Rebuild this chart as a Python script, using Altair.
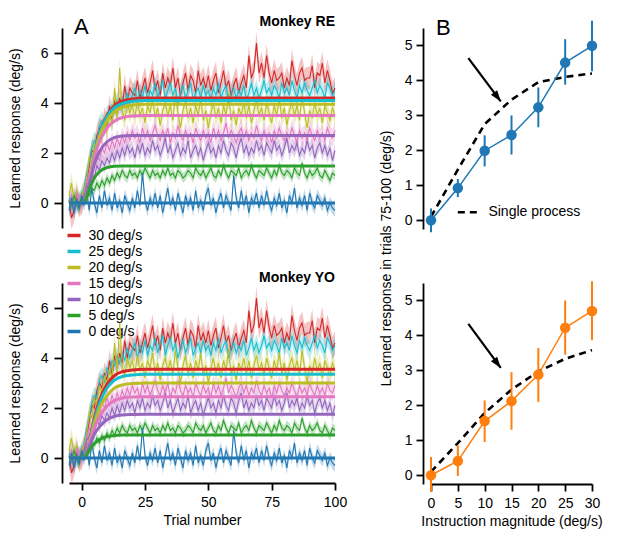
import altair as alt
import pandas as pd

# ---------------- data ----------------
trials = list(range(-5, 101))
speeds = ["30 deg/s", "25 deg/s", "20 deg/s", "15 deg/s", "10 deg/s", "5 deg/s", "0 deg/s"]
colors = ["#d62728", "#17becf", "#bcbd22", "#e377c2", "#9467bd", "#2ca02c", "#1f77b4"]

resp_30 = [0.1, -0.6, -0.3, 0.2, -0.1,
           0.0, 0.4, 0.9, 1.5, 2.1, 2.0, 2.7, 3.0, 2.8, 3.4,
           3.1, 3.9, 3.3, 4.1, 3.6, 4.2, 3.8, 4.7, 4.0, 4.6,
           4.4, 4.3, 4.9, 4.2, 4.6, 5.0, 4.4, 4.8, 5.3, 4.5,
           4.9, 4.3, 5.2, 4.6, 5.0, 4.7, 5.4, 4.6, 5.0, 4.3,
           4.8, 5.2, 4.5, 5.1, 4.9, 4.4, 5.3, 4.7, 5.0, 4.6,
           5.1, 4.5, 4.9, 5.2, 4.4, 4.8, 5.3, 4.6, 4.9, 4.3,
           4.7, 5.0, 4.4, 4.8, 5.1, 4.6, 5.9, 5.0, 5.3, 6.4,
           5.2, 5.6, 5.0, 5.9, 5.2, 4.8, 5.3, 4.9, 5.0, 5.2,
           4.6, 5.0, 4.7, 5.7, 5.1, 4.7, 5.2, 5.4, 4.9, 5.0,
           5.0, 5.5, 4.6, 5.2, 5.1, 5.6, 4.8, 5.3, 4.9, 4.4,
           4.6]
resp_25 = [0.2, -0.2, 0.3, -0.1, 0.1,
           0.2, 0.6, 1.2, 1.6, 2.2, 2.5, 2.4, 3.1, 3.3, 3.0,
           3.6, 3.4, 3.9, 3.7, 4.1, 3.8, 4.2, 3.9, 4.4, 4.0,
           4.3, 4.6, 4.0, 4.5, 4.2, 4.7, 4.1, 4.5, 4.3, 4.8,
           4.2, 4.6, 4.9, 4.1, 4.5, 4.8, 4.3, 4.6, 4.0, 4.4,
           4.7, 4.2, 4.5, 4.8, 4.1, 4.4, 4.6, 4.2, 4.7, 4.3,
           4.5, 4.1, 4.6, 4.3, 4.8, 4.2, 4.5, 4.7, 4.0, 4.4,
           4.6, 4.2, 4.5, 4.3, 4.7, 4.1, 4.4, 4.8, 4.3, 4.6,
           4.2, 4.5, 4.9, 4.4, 4.6, 4.3, 4.7, 4.5, 4.2, 4.8,
           4.4, 4.6, 4.3, 4.9, 4.5, 4.2, 4.7, 4.4, 4.8, 4.5,
           4.3, 4.6, 4.9, 4.4, 4.7, 4.5, 4.2, 4.8, 4.6, 4.3,
           4.5]
resp_20 = [0.3, 0.8, 0.1, 0.5, -0.2,
           0.3, 0.5, 1.0, 1.8, 1.6, 2.4, 2.1, 2.9, 2.6, 3.3,
           2.9, 3.6, 3.2, 4.6, 3.4, 5.4, 3.7, 3.3, 4.0, 3.6,
           3.9, 3.4, 4.1, 3.5, 3.8, 3.2, 3.9, 3.6, 4.2, 3.4,
           3.8, 3.1, 3.7, 4.0, 3.5, 3.9, 3.3, 4.3, 3.6, 3.0,
           3.7, 4.1, 3.4, 3.8, 3.2, 3.9, 3.5, 4.2, 3.3, 3.7,
           3.0, 3.6, 4.0, 3.4, 3.8, 3.2, 3.9, 3.5, 4.4, 3.3,
           3.7, 3.1, 3.8, 3.5, 4.0, 3.4, 3.9, 3.2, 3.7, 4.1,
           3.5, 3.8, 3.3, 4.0, 3.6, 3.2, 3.9, 3.5, 4.2, 3.4,
           3.8, 3.1, 3.7, 4.0, 3.5, 3.9, 3.3, 4.3, 3.6, 3.0,
           3.7, 3.4, 4.0, 3.5, 3.8, 3.2, 3.9, 3.6, 3.3, 3.8,
           3.5]
resp_15 = [0.0, 0.3, -0.3, 0.4, 0.1,
           -0.1, 0.4, 0.9, 1.2, 1.0, 1.6, 1.9, 1.7, 2.2, 2.0,
           2.4, 2.1, 2.5, 2.2, 2.6, 2.3, 2.7, 2.4, 2.8, 2.5,
           2.9, 2.6, 2.8, 2.4, 3.0, 2.6, 2.9, 2.5, 2.8, 3.1,
           2.7, 2.5, 2.9, 2.6, 3.0, 2.4, 2.8, 2.6, 3.1, 2.7,
           2.5, 2.9, 2.6, 2.8, 2.4, 3.0, 2.7, 2.5, 2.9, 2.6,
           2.8, 2.4, 3.0, 2.6, 2.9, 2.5, 2.8, 3.2, 2.6, 2.9,
           2.7, 2.4, 2.8, 3.0, 2.6, 2.9, 2.5, 2.8, 2.6, 3.1,
           2.7, 2.5, 2.9, 2.6, 2.8, 2.4, 2.9, 2.6, 3.0, 2.7,
           2.5, 2.8, 2.6, 3.0, 2.7, 2.4, 2.9, 2.6, 2.8, 2.5,
           3.0, 2.7, 2.5, 2.9, 2.6, 2.8, 2.5, 3.0, 2.7, 2.6,
           2.9]
resp_10 = [-0.2, 0.1, -0.3, 0.2, 0.0,
           0.1, 0.3, 0.7, 0.9, 1.2, 1.0, 1.5, 1.3, 1.7, 1.5,
           1.8, 1.6, 2.0, 1.7, 2.1, 1.8, 2.2, 1.9, 2.3, 2.0,
           2.2, 1.8, 2.3, 2.0, 2.4, 1.9, 2.2, 2.0, 2.5, 2.1,
           2.3, 1.9, 2.2, 2.6, 2.0, 2.3, 1.8, 2.1, 2.4, 1.9,
           2.2, 2.0, 2.5, 1.8, 2.1, 2.3, 1.9, 2.2, 1.7, 2.1,
           2.4, 2.0, 2.2, 1.8, 2.3, 2.0, 2.5, 2.1, 1.9, 2.4,
           2.2, 1.8, 2.3, 2.6, 2.0, 2.3, 1.9, 2.2, 2.0, 2.5,
           2.1, 2.3, 1.9, 2.4, 2.2, 2.0, 2.5, 2.1, 2.3, 1.9,
           2.2, 2.6, 2.0, 2.3, 2.1, 2.4, 1.9, 2.2, 2.0, 2.5,
           2.1, 2.3, 1.8, 2.2, 2.4, 2.0, 2.3, 1.9, 2.2, 1.7,
           2.1]
resp_5 = [0.1, -0.1, 0.3, 0.0, -0.2,
          0.2, 0.1, 0.4, 0.3, 0.6, 0.5, 0.8, 0.6, 0.9, 0.7,
          1.0, 0.8, 1.1, 0.9, 1.2, 1.0, 1.3, 1.1, 1.0, 1.3,
          1.1, 1.2, 1.0, 1.3, 1.1, 1.4, 1.2, 1.0, 1.3, 1.1,
          1.2, 1.0, 1.3, 1.1, 1.4, 1.1, 1.2, 1.0, 1.3, 1.2,
          1.0, 1.1, 1.3, 1.2, 1.0, 1.4, 1.2, 1.1, 1.3, 1.0,
          1.2, 1.4, 1.1, 1.0, 1.3, 1.1, 1.5, 1.2, 1.0, 1.3,
          1.2, 1.1, 1.4, 1.0, 1.2, 1.3, 1.1, 1.5, 1.2, 1.0,
          1.3, 1.2, 1.1, 1.4, 1.2, 1.0, 1.3, 1.1, 1.5, 1.2,
          1.1, 1.3, 1.2, 1.0, 1.4, 1.2, 1.1, 1.6, 1.2, 1.0,
          1.3, 1.1, 1.2, 1.4, 1.1, 1.0, 1.3, 1.1, 0.9, 1.2,
          1.1]
resp_0 = [-0.3, 0.2, -0.4, 0.1, -0.2,
          0.3, -0.1, 0.4, -0.3, 0.6, 0.0, -0.4, 0.3, -0.2, 0.5,
          -0.1, 0.2, -0.3, 0.4, -0.2, 0.1, -0.4, 0.3, 0.0, -0.3,
          0.2, -0.2, 0.5, -0.1, 1.2, 0.1, -0.3, 0.2, -0.1, 0.4,
          -0.2, 0.3, -0.4, 0.1, 0.6, -0.1, 0.2, -0.3, 0.4, 0.0,
          -0.4, 0.3, -0.1, 0.2, -0.3, 0.5, -0.2, 0.1, -0.3, 0.3,
          0.6, -0.1, 0.2, -0.4, 0.1, 0.4, -0.2, 0.3, 0.0, -0.3,
          1.1, 0.2, -0.2, 0.5, -0.1, 0.3, -0.4, 0.2, 0.0, 0.4,
          -0.2, 0.3, -0.1, 0.5, 0.0, -0.3, 0.2, -0.1, 0.4, -0.2,
          0.1, -0.4, 0.3, 0.0, 0.6, -0.2, 0.2, -0.1, 0.3, -0.3,
          0.4, 0.0, -0.2, 0.3, 0.1, -0.1, 0.2, -0.3, 0.0, -0.2,
          -0.3]
responses = [resp_30, resp_25, resp_20, resp_15, resp_10, resp_5, resp_0]
sem = [0.45, 0.35, 0.4, 0.35, 0.3, 0.2, 0.25]

fit_trials = [-5, 1, 3, 5, 7, 10, 13, 16, 20, 25, 100]
fit_re = [
    [0, 0, 0.75, 1.9, 2.75, 3.5, 3.9, 4.07, 4.16, 4.2, 4.2],
    [0, 0, 0.8, 1.95, 2.75, 3.45, 3.82, 3.98, 4.07, 4.1, 4.1],
    [0, 0, 0.8, 1.9, 2.65, 3.3, 3.66, 3.83, 3.92, 3.95, 3.95],
    [0, 0, 0.8, 1.8, 2.45, 3.0, 3.28, 3.42, 3.48, 3.5, 3.5],
    [0, 0, 0.75, 1.55, 2.05, 2.45, 2.62, 2.68, 2.7, 2.7, 2.7],
    [0, 0, 0.55, 1.0, 1.25, 1.42, 1.47, 1.48, 1.48, 1.48, 1.48],
    [0, 0, 0, 0, 0, 0, 0, 0, 0, 0, 0],
]
fit_yo = [
    [0, 0, 0.62, 1.6, 2.3, 2.95, 3.3, 3.45, 3.52, 3.55, 3.55],
    [0, 0, 0.6, 1.5, 2.17, 2.8, 3.12, 3.26, 3.32, 3.35, 3.35],
    [0, 0, 0.58, 1.38, 1.97, 2.5, 2.8, 2.92, 2.98, 3.0, 3.0],
    [0, 0, 0.55, 1.2, 1.65, 2.08, 2.3, 2.4, 2.44, 2.45, 2.45],
    [0, 0, 0.45, 0.95, 1.25, 1.53, 1.67, 1.72, 1.74, 1.75, 1.75],
    [0, 0, 0.3, 0.58, 0.74, 0.86, 0.9, 0.92, 0.92, 0.92, 0.92],
    [0, 0, 0, 0, 0, 0, 0, 0, 0, 0, 0],
]

magnitudes = [0, 5, 10, 15, 20, 25, 30]
re_mean = [0.0, 0.92, 1.99, 2.44, 3.23, 4.51, 4.99]
re_lo = [-0.34, 0.66, 1.54, 1.88, 2.66, 3.88, 4.26]
re_hi = [0.34, 1.18, 2.43, 3.0, 3.8, 5.18, 5.71]
re_single = [0.1, 1.45, 2.75, 3.45, 3.95, 4.1, 4.2]
yo_mean = [0.0, 0.41, 1.55, 2.12, 2.88, 4.22, 4.70]
yo_lo = [-0.48, -0.02, 0.95, 1.3, 2.1, 3.45, 3.86]
yo_hi = [0.52, 0.86, 2.14, 2.95, 3.64, 5.0, 5.55]
yo_single = [0.1, 0.92, 1.78, 2.45, 2.97, 3.33, 3.58]

# arrows (data units): start x, start y, tip x, tip y
re_arrow = [6.96, 4.64, 13.0, 3.4]
yo_arrow = [6.96, 4.33, 13.0, 3.07]
key_x = [5.0, 8.7]
key_y = 0.23
key_text_x = 10.7

for r in responses:
    assert len(r) == len(trials)

# ---------------- tables ----------------
rows = []
for s, vals, e in zip(speeds, responses, sem):
    for t, v in zip(trials, vals):
        rows.append({"trial": t, "value": v, "lo": v - e, "hi": v + e, "speed": s})
noise_df = pd.DataFrame(rows)


def fit_table(fits):
    out = []
    for s, vals in zip(speeds, fits):
        for t, v in zip(fit_trials, vals):
            out.append({"trial": t, "value": v, "speed": s})
    return pd.DataFrame(out)


FONT = "Liberation Sans"
cscale = alt.Scale(domain=speeds, range=colors)


def left_panel(fits, monkey, label, bottom):
    xs = alt.Scale(domain=[-5, 100], nice=False, zero=False)
    ys = alt.Scale(domain=[-1, 7], nice=False, zero=False)
    if bottom:
        xaxis = alt.Axis(title="Trial number", values=[0, 25, 50, 75, 100], tickSize=7,
                         labelPadding=5, titlePadding=4, labelFlush=False)
    else:
        xaxis = None
    yaxis = alt.Axis(title="Learned response (deg/s)", values=[0, 2, 4, 6], offset=7,
                     tickSize=8, labelPadding=6, titlePadding=18)
    X = alt.X("trial:Q", scale=xs, axis=xaxis)
    band = alt.Chart(noise_df).mark_area(opacity=0.28).encode(
        x=X, y=alt.Y("lo:Q", scale=ys, axis=yaxis), y2="hi:Q",
        fill=alt.Fill("speed:N", scale=cscale, legend=None))
    noise = alt.Chart(noise_df).mark_line(strokeWidth=1.1).encode(
        x=X, y=alt.Y("value:Q", scale=ys, axis=yaxis),
        stroke=alt.Stroke("speed:N", scale=cscale, legend=None))
    if bottom:
        leg = None
    else:
        leg = alt.Legend(title=None, orient="none", legendX=-3.5, legendY=199,
                         symbolType="stroke", symbolStrokeWidth=3.5, symbolSize=169,
                         labelFontSize=14, labelFont=FONT, labelColor="black",
                         labelOffset=6, rowPadding=0, padding=0)
    fit = alt.Chart(fit_table(fits)).mark_line(strokeWidth=3, interpolate="monotone").encode(
        x=X, y=alt.Y("value:Q", scale=ys, axis=yaxis),
        color=alt.Color("speed:N", scale=cscale, legend=leg))
    mon = alt.Chart(pd.DataFrame({"t": [monkey]})).mark_text(
        fontSize=14, fontWeight="bold", align="right", baseline="middle", color="black",
        font=FONT).encode(text="t:N", x=alt.value(266), y=alt.value(-6 if not bottom else -5))
    layers = [band, noise, fit, mon]
    if label:
        lab = alt.Chart(pd.DataFrame({"t": [label]})).mark_text(
            fontSize=22, align="center", baseline="middle", color="black", font=FONT
        ).encode(text="t:N", x=alt.value(12.4), y=alt.value(-1))
        layers.append(lab)
    return alt.layer(*layers).properties(width=266, height=200)


def right_panel(mean, lo, hi, single, arrow, color, top):
    xs = alt.Scale(domain=[0, 30], nice=False, zero=False)
    ys = alt.Scale(domain=[-0.25, 5.5], nice=False, zero=False)
    if top:
        yaxis = alt.Axis(title="Learned response in trials 75-100 (deg/s)", values=[0, 1, 2, 3, 4, 5],
                         offset=8, tickSize=7, labelPadding=4, titlePadding=11, titleY=230)
        xaxis = None
    else:
        yaxis = alt.Axis(title=None, values=[0, 1, 2, 3, 4, 5], offset=8, tickSize=7, labelPadding=4)
        xaxis = alt.Axis(title="Instruction magnitude (deg/s)", values=magnitudes, tickSize=7,
                         labelPadding=5, titlePadding=4, labelFlush=False)
    df = pd.DataFrame({"mag": magnitudes, "mean": mean, "lo": lo, "hi": hi, "single": single})
    X = alt.X("mag:Q", scale=xs, axis=xaxis)
    sp = alt.Chart(df).mark_line(color="black", strokeWidth=2.6, strokeDash=[7, 5]).encode(
        x=X, y=alt.Y("single:Q", scale=ys, axis=yaxis))
    ln = alt.Chart(df).mark_line(color=color, strokeWidth=1.5).encode(
        x=X, y=alt.Y("mean:Q", scale=ys, axis=yaxis))
    err = alt.Chart(df).mark_rule(color=color, strokeWidth=2).encode(
        x=X, y=alt.Y("lo:Q", scale=ys, axis=yaxis), y2="hi:Q")
    pts = alt.Chart(df).mark_circle(size=110, color=color, opacity=1).encode(
        x=X, y=alt.Y("mean:Q", scale=ys, axis=yaxis))
    adf = pd.DataFrame({"x0": [arrow[0]], "y0": [arrow[1]], "x1": [arrow[2]], "y1": [arrow[3]]})
    aline = alt.Chart(adf).mark_rule(color="black", strokeWidth=2.2).encode(
        x=alt.X("x0:Q", scale=xs, axis=xaxis), y=alt.Y("y0:Q", scale=ys, axis=yaxis),
        x2="x1:Q", y2="y1:Q")
    ahead = alt.Chart(adf).mark_point(shape="M0,0L-0.35,-1L0.35,-1Z", filled=True, size=500,
                                      angle=323, color="black", opacity=1).encode(
        x=alt.X("x1:Q", scale=xs, axis=xaxis), y=alt.Y("y1:Q", scale=ys, axis=yaxis))
    layers = [sp, ln, err, pts, aline, ahead]
    if top:
        kdf = pd.DataFrame({"x0": [key_x[0]], "x1": [key_x[1]], "y": [key_y],
                            "tx": [key_text_x], "t": ["Single process"]})
        key = alt.Chart(kdf).mark_rule(color="black", strokeWidth=2.6, strokeDash=[7, 5]).encode(
            x=alt.X("x0:Q", scale=xs, axis=xaxis), x2="x1:Q", y=alt.Y("y:Q", scale=ys, axis=yaxis))
        ktxt = alt.Chart(kdf).mark_text(fontSize=14, align="left", baseline="middle",
                                        color="black", font=FONT).encode(
            x=alt.X("tx:Q", scale=xs, axis=xaxis), y=alt.Y("y:Q", scale=ys, axis=yaxis), text="t:N")
        lab = alt.Chart(pd.DataFrame({"t": ["B"]})).mark_text(
            fontSize=22, align="center", baseline="middle", color="black", font=FONT
        ).encode(text="t:N", x=alt.value(12.4), y=alt.value(-0.5))
        layers += [key, ktxt, lab]
    return alt.layer(*layers).properties(width=161, height=201)


tl = left_panel(fit_re, "Monkey RE", "A", False)
bl = left_panel(fit_yo, "Monkey YO", None, True)
tr = right_panel(re_mean, re_lo, re_hi, re_single, re_arrow, "#1f77b4", True)
br = right_panel(yo_mean, yo_lo, yo_hi, yo_single, yo_arrow, "#ff7f0e", False)

chart = alt.concat(tl, tr, bl, br, columns=2, spacing={"row": 54, "column": 96},
                   bounds="flush").resolve_scale(color="independent").properties(
    padding={"left": 0, "top": 7, "right": 5, "bottom": 5}
).configure(font=FONT).configure_view(stroke=None).configure_axis(
    labelFontSize=14, titleFontSize=14, titleFontWeight="normal", labelFont=FONT, titleFont=FONT,
    labelColor="black", titleColor="black", domainColor="black", tickColor="black",
    domainWidth=1.8, tickWidth=1.8, grid=False
)

chart.save("out.html", embed_options={"renderer": "svg", "actions": False})
